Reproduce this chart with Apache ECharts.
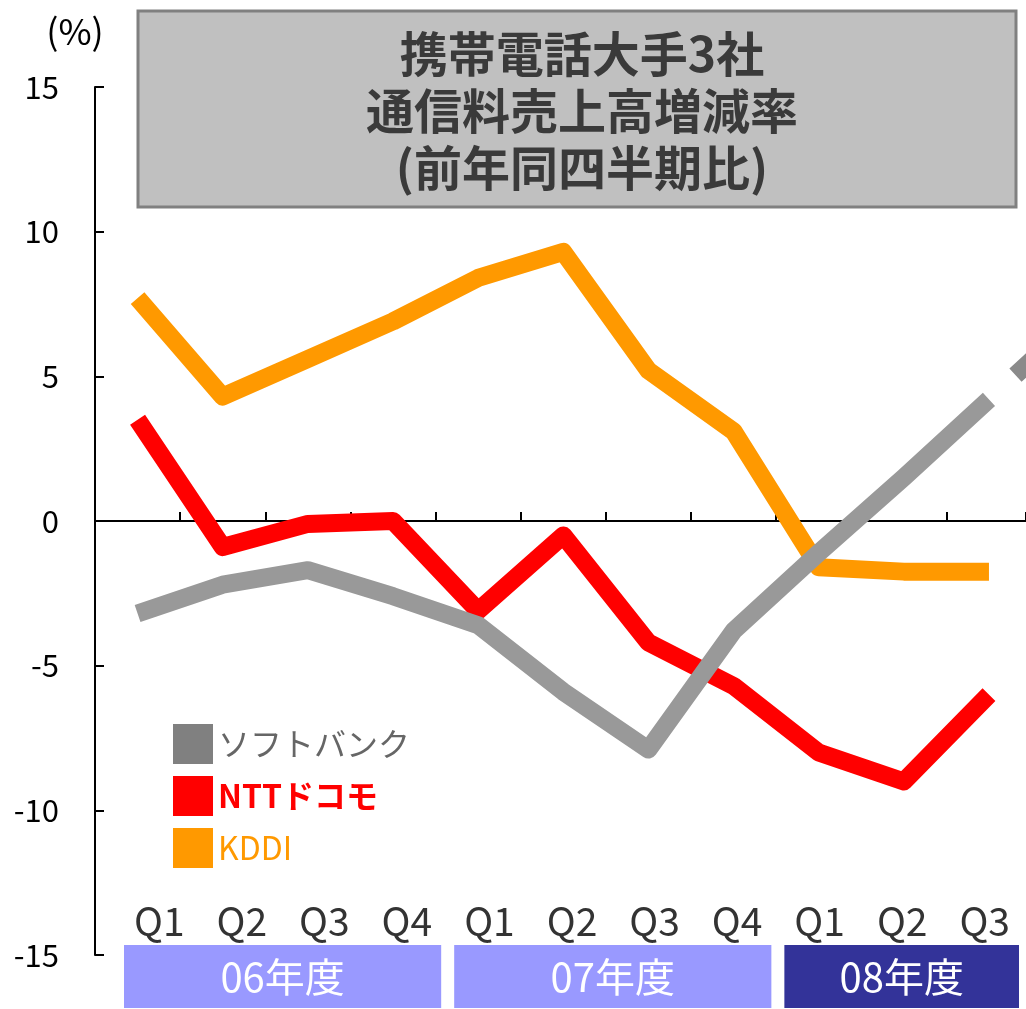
<!DOCTYPE html>
<html>
<head>
<meta charset="utf-8">
<script src="https://cdn.jsdelivr.net/npm/echarts@6/dist/echarts.min.js"></script>
<style>
html,body{margin:0;padding:0;background:#fff}
#main{width:1026px;height:1009px}
</style>
</head>
<body>
<div id="main"></div>
<script>
// 四半期ラベル
const quarters = ['Q1','Q2','Q3','Q4','Q1','Q2','Q3','Q4','Q1','Q2','Q3'];
const years = ['06年度','07年度','08年度'];
const yearSpans = [[0,3],[4,7],[8,10]];
const yearColors = ['#9999ff','#9999ff','#333399'];
// 前年同四半期比 (%)
const softbank = [-3.2,-2.2,-1.7,-2.6,-3.6,-5.9,-7.9,-3.8,-1.1,1.5,4.2];
const docomo   = [3.5,-0.9,-0.1,0.0,-3.1,-0.5,-4.2,-5.7,-8.0,-9.0,-6.0];
const kddi     = [7.7,4.3,5.6,6.9,8.4,9.3,5.2,3.1,-1.6,-1.75,-1.75];
const softbankNext = 6.9; // 点線の先 (次の四半期)
const titleLines = ['携帯電話大手3社','通信料売上高増減率','(前年同四半期比)'];

const FONT = '"Noto Sans CJK JP", "Noto Sans", sans-serif';

// 四半期 i はバンド [i, i+1] の中央に置く
const toXY = arr => arr.map((v, i) => [i + 0.5, v]);
const last = softbank.length - 1;
const dashData = [[last + 0.5, softbank[last]], [last + 1.5, softbankNext]];

const chart = echarts.init(document.getElementById('main'));
chart.setOption({
  animation: false,
  textStyle: {fontFamily: FONT},
  title: {
    text: titleLines.join('\n'),
    left: 577, top: 20, textAlign: 'center',
    textStyle: {fontSize: 48, lineHeight: 57, fontWeight: 'bold', color: '#3a3a3a', fontFamily: FONT}
  },
  graphic: [{
    type: 'rect', z: -1,
    shape: {x: 138, y: 11, width: 878, height: 196},
    style: {fill: '#c0c0c0', stroke: '#808080', lineWidth: 3}
  }],
  legend: {
    orient: 'vertical', left: 168, top: 719,
    itemWidth: 40, itemHeight: 40, itemGap: 12, icon: 'rect',
    textStyle: {fontSize: 32, fontFamily: FONT},
    data: [
      {name: 'ソフトバンク', itemStyle: {color: '#808080'}, textStyle: {color: '#666'}},
      {name: 'NTTドコモ', textStyle: {color: '#ff0000', fontWeight: 'bold'}},
      {name: 'KDDI', textStyle: {color: '#ff9900'}}
    ]
  },
  grid: [
    {left: 95, top: 87, right: 0, height: 868},
    {left: 118, top: 945, width: 909, height: 63}
  ],
  xAxis: [{
    gridIndex: 0, type: 'value', min: 0, max: 10.935, interval: 1,
    axisLine: {onZero: true, lineStyle: {color: '#000', width: 2}},
    axisTick: {inside: true, length: 9, lineStyle: {color: '#000', width: 2}},
    axisLabel: {show: false},
    splitLine: {show: false}
  }, {
    gridIndex: 1, type: 'category', data: quarters, boundaryGap: true, position: 'top',
    axisLine: {show: false}, axisTick: {show: false},
    axisLabel: {fontSize: 39, color: '#333', margin: 4, fontFamily: FONT}
  }],
  yAxis: [{
    gridIndex: 0, type: 'value', min: -15, max: 15, interval: 5,
    name: '(%)', nameLocation: 'end', nameGap: 38,
    nameTextStyle: {fontSize: 36, color: '#000', padding: [0, 40, 0, 0], fontFamily: FONT},
    axisLine: {show: true, lineStyle: {color: '#000', width: 2}},
    axisTick: {show: true, inside: true, length: 9, lineStyle: {color: '#000', width: 2}},
    axisLabel: {fontSize: 31, color: '#000', margin: 36, fontFamily: FONT},
    splitLine: {show: false}
  }, {
    gridIndex: 1, type: 'value', min: 0, max: 1, show: false
  }],
  series: [{
    name: 'KDDI', type: 'line', data: toXY(kddi), symbol: 'none',
    itemStyle: {color: '#ff9900'},
    lineStyle: {width: 18, color: '#ff9900', cap: 'butt', join: 'round'}
  }, {
    name: 'NTTドコモ', type: 'line', data: toXY(docomo), symbol: 'none',
    itemStyle: {color: '#ff0000'},
    lineStyle: {width: 18, color: '#ff0000', cap: 'butt', join: 'round'}
  }, {
    name: 'ソフトバンク', type: 'line', data: toXY(softbank), symbol: 'none',
    itemStyle: {color: '#999999'},
    lineStyle: {width: 18, color: '#999999', cap: 'butt', join: 'round'}
  }, {
    name: 'ソフトバンク予測', type: 'line', data: dashData, symbol: 'none',
    itemStyle: {color: '#8a8a8a'},
    lineStyle: {width: 18, color: '#8a8a8a', cap: 'butt', type: [40, 36], dashOffset: 40}
  }, {
    type: 'custom', xAxisIndex: 1, yAxisIndex: 1,
    data: yearSpans.map(s => [s[0], s[1]]),
    renderItem: function (params, api) {
      const s = api.coord([api.value(0), 0]);
      const e = api.coord([api.value(1), 0]);
      const bw = api.size([1, 0])[0];
      const cs = params.coordSys;
      const x0 = s[0] - bw / 2 + 6;
      const x1 = e[0] + bw / 2 - 7;
      return {
        type: 'rect',
        shape: {x: x0, y: cs.y, width: x1 - x0, height: cs.height},
        style: {fill: yearColors[params.dataIndex]},
        textContent: {style: {text: years[params.dataIndex], fill: '#fff', fontSize: 40, fontFamily: FONT}},
        textConfig: {position: 'inside'}
      };
    }
  }]
});
</script>
</body>
</html>
